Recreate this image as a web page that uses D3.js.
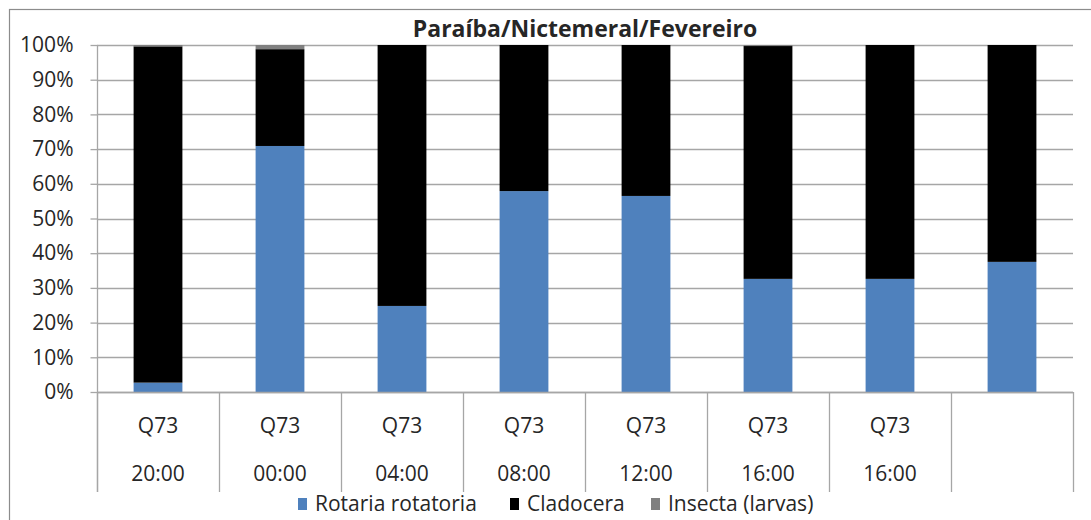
<!DOCTYPE html>
<html>
<head>
<meta charset="utf-8">
<script src="https://cdn.jsdelivr.net/npm/d3@7"></script>
<style>
  html, body { margin: 0; padding: 0; background: #fff; }
  svg { display: block; }
  text { font-family: "Open Sans", Lato, "Liberation Sans", sans-serif; fill: #262626; }
</style>
</head>
<body>
<svg id="chart" width="1091" height="520"></svg>
<script>
// ---- data ----
const title = "Paraíba/Nictemeral/Fevereiro";
const siteLabels = ["Q73", "Q73", "Q73", "Q73", "Q73", "Q73", "Q73", ""];
const timeLabels = ["20:00", "00:00", "04:00", "08:00", "12:00", "16:00", "16:00", ""];
const seriesNames = ["Rotaria rotatoria", "Cladocera", "Insecta (larvas)"];
const rotaria  = [2.7, 70.9, 24.8, 57.9, 56.5, 32.6, 32.6, 37.5];
const cladocera = [96.9, 27.9, 75.2, 42.1, 43.5, 67.1, 67.4, 62.5];
const insecta  = [0.4, 1.2, 0, 0, 0, 0.3, 0, 0];
const yTicks = [0, 10, 20, 30, 40, 50, 60, 70, 80, 90, 100];
const colors = ["#4f81bd", "#000000", "#808080"];

// ---- layout ----
const svg = d3.select("#chart");
const pLeft = 97, pRight = 1073, pTop = 45, pBottom = 392;
const catIdx = d3.range(siteLabels.length);
const fs = 21;

const x = d3.scaleBand().domain(catIdx).range([pLeft, pRight]).paddingInner(0.6).paddingOuter(0.3);
const xCat = d3.scaleBand().domain(catIdx).range([pLeft, pRight]);
const y = d3.scaleLinear().domain([0, 100]).range([pBottom, pTop]);

// frame
svg.append("rect").attr("x", 9.5).attr("y", 9.5).attr("width", 1100).attr("height", 520)
  .attr("fill", "none").attr("stroke", "#8c8c8c").attr("stroke-width", 1.2);

// gridlines
svg.append("g").selectAll("line").data(yTicks).join("line")
  .attr("x1", pLeft).attr("x2", pRight)
  .attr("y1", d => Math.round(y(d)) + 0.5).attr("y2", d => Math.round(y(d)) + 0.5)
  .attr("stroke", "#a6a6a6").attr("stroke-width", 1.3);

// stacked bars
const rows = catIdx.map(i => ({i, r: rotaria[i], c: cladocera[i], n: insecta[i]}));
const stack = d3.stack().keys(["r", "c", "n"])(rows);
svg.append("g").selectAll("g").data(stack).join("g")
  .attr("fill", (d, k) => colors[k])
  .selectAll("rect").data(d => d).join("rect")
  .attr("x", d => x(d.data.i))
  .attr("width", x.bandwidth())
  .attr("y", d => y(d[1]))
  .attr("height", d => Math.max(0, y(d[0]) - y(d[1])));

// y axis
const yAxis = d3.axisLeft(y).tickValues(yTicks).tickFormat(d => d + "%").tickSize(7).tickPadding(17);
const ga = svg.append("g").attr("transform", `translate(${pLeft + 0.5},0)`).call(yAxis);
ga.select(".domain").remove();
ga.selectAll(".tick line").attr("stroke", "#a6a6a6").attr("stroke-width", 1.3);
ga.selectAll(".tick text").attr("font-size", fs).attr("fill", "#262626")
  .style("font-family", "'Open Sans', Lato, sans-serif");
svg.append("line").attr("x1", pLeft + 0.5).attr("x2", pLeft + 0.5).attr("y1", pTop).attr("y2", 492)
  .attr("stroke", "#a6a6a6").attr("stroke-width", 1.3);

// x axis baseline + category separators
svg.append("line").attr("x1", pLeft).attr("x2", pRight).attr("y1", pBottom + 0.5).attr("y2", pBottom + 0.5)
  .attr("stroke", "#a6a6a6").attr("stroke-width", 1.3);
svg.append("g").selectAll("line").data(catIdx.concat([catIdx.length])).join("line")
  .attr("x1", i => (i < catIdx.length ? xCat(i) : pRight) + 0.5)
  .attr("x2", i => (i < catIdx.length ? xCat(i) : pRight) + 0.5)
  .attr("y1", pBottom).attr("y2", 492)
  .attr("stroke", "#a6a6a6").attr("stroke-width", 1.3);

// category labels
const cx = i => xCat(i) + xCat.bandwidth() / 2;
svg.append("g").selectAll("text").data(catIdx).join("text")
  .attr("x", cx).attr("y", 433).attr("text-anchor", "middle").attr("font-size", fs)
  .text(i => siteLabels[i]);
svg.append("g").selectAll("text").data(catIdx).join("text")
  .attr("x", cx).attr("y", 481).attr("text-anchor", "middle").attr("font-size", fs)
  .text(i => timeLabels[i]);

// title
svg.append("text").attr("x", 585).attr("y", 37).attr("text-anchor", "middle")
  .attr("font-size", 23).attr("font-weight", "bold").attr("fill", "#000").text(title);

// legend
const legendX = [298, 510, 651];
const lg = svg.append("g").selectAll("g").data(seriesNames).join("g")
  .attr("transform", (d, k) => `translate(${legendX[k]},0)`);
lg.append("rect").attr("x", 0).attr("y", 498).attr("width", 9).attr("height", 12)
  .attr("fill", (d, k) => colors[k]);
lg.append("text").attr("x", 17).attr("y", 511).attr("font-size", fs).text(d => d);
</script>
</body>
</html>
